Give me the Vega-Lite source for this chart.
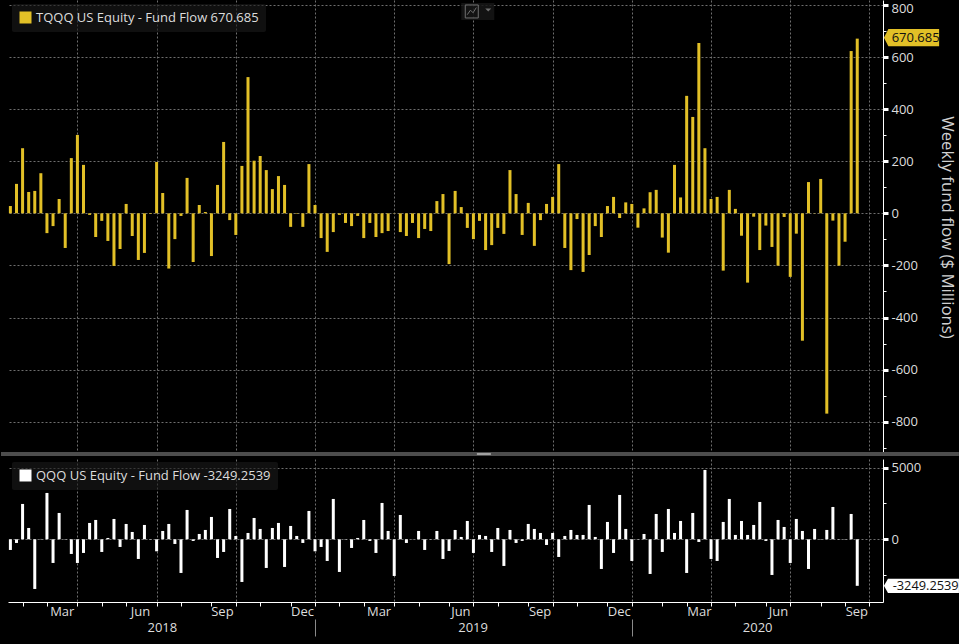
{
  "$schema": "https://vega.github.io/schema/vega-lite/v6.json",
  "background": "black",
  "padding": {"left": 0, "top": -2, "right": 0, "bottom": 10},
  "spacing": 2,
  "datasets": {
    "flows": [
      {"date":"2018-01-12","tqqq":28,"qqq":-745},{"date":"2018-01-19","tqqq":113,"qqq":-256},{"date":"2018-01-26","tqqq":250,"qqq":2468},{"date":"2018-02-02","tqqq":82,"qqq":791},
      {"date":"2018-02-09","tqqq":86,"qqq":-3469},{"date":"2018-02-16","tqqq":154,"qqq":23},{"date":"2018-02-23","tqqq":-76,"qqq":3236},{"date":"2018-03-02","tqqq":-49,"qqq":-1653},
      {"date":"2018-03-09","tqqq":55,"qqq":1839},{"date":"2018-03-16","tqqq":-133,"qqq":-20},{"date":"2018-03-23","tqqq":212,"qqq":-1024},{"date":"2018-03-30","tqqq":301,"qqq":-1653},
      {"date":"2018-04-06","tqqq":186,"qqq":-954},{"date":"2018-04-13","tqqq":-6,"qqq":1141},{"date":"2018-04-20","tqqq":-91,"qqq":1350},{"date":"2018-04-27","tqqq":-29,"qqq":-885},
      {"date":"2018-05-04","tqqq":-106,"qqq":93},{"date":"2018-05-11","tqqq":-202,"qqq":1420},{"date":"2018-05-18","tqqq":-137,"qqq":-535},{"date":"2018-05-25","tqqq":36,"qqq":1071},
      {"date":"2018-06-01","tqqq":-87,"qqq":512},{"date":"2018-06-08","tqqq":-179,"qqq":-1373},{"date":"2018-06-15","tqqq":-152,"qqq":1001},{"date":"2018-06-22","tqqq":-2,"qqq":20},
      {"date":"2018-06-29","tqqq":197,"qqq":-838},{"date":"2018-07-06","tqqq":78,"qqq":582},{"date":"2018-07-13","tqqq":-212,"qqq":1071},{"date":"2018-07-20","tqqq":-99,"qqq":-326},
      {"date":"2018-07-27","tqqq":-10,"qqq":-2351},{"date":"2018-08-03","tqqq":136,"qqq":2049},{"date":"2018-08-10","tqqq":-187,"qqq":-116},{"date":"2018-08-17","tqqq":32,"qqq":372},
      {"date":"2018-08-24","tqqq":5,"qqq":652},{"date":"2018-08-31","tqqq":-164,"qqq":1560},{"date":"2018-09-07","tqqq":109,"qqq":-1304},{"date":"2018-09-14","tqqq":274,"qqq":-885},
      {"date":"2018-09-21","tqqq":-26,"qqq":2118},{"date":"2018-09-28","tqqq":-83,"qqq":233},{"date":"2018-10-05","tqqq":182,"qqq":-2980},{"date":"2018-10-12","tqqq":523,"qqq":442},
      {"date":"2018-10-19","tqqq":202,"qqq":1490},{"date":"2018-10-26","tqqq":220,"qqq":722},{"date":"2018-11-02","tqqq":166,"qqq":-2002},{"date":"2018-11-09","tqqq":93,"qqq":791},
      {"date":"2018-11-16","tqqq":143,"qqq":1141},{"date":"2018-11-23","tqqq":109,"qqq":-1932},{"date":"2018-11-30","tqqq":-52,"qqq":931},{"date":"2018-12-07","tqqq":-2,"qqq":233},
      {"date":"2018-12-14","tqqq":-52,"qqq":-256},{"date":"2018-12-21","tqqq":189,"qqq":1979},{"date":"2018-12-28","tqqq":32,"qqq":-838},{"date":"2019-01-04","tqqq":-95,"qqq":-535},
      {"date":"2019-01-11","tqqq":-148,"qqq":-1513},{"date":"2019-01-18","tqqq":-72,"qqq":2817},{"date":"2019-01-25","tqqq":-6,"qqq":-2281},{"date":"2019-02-01","tqqq":-37,"qqq":-20},
      {"date":"2019-02-08","tqqq":-49,"qqq":-605},{"date":"2019-02-15","tqqq":-10,"qqq":93},{"date":"2019-02-22","tqqq":-95,"qqq":1350},{"date":"2019-03-01","tqqq":-37,"qqq":-116},
      {"date":"2019-03-08","tqqq":-91,"qqq":-954},{"date":"2019-03-15","tqqq":-76,"qqq":2538},{"date":"2019-03-22","tqqq":-68,"qqq":582},{"date":"2019-03-29","tqqq":-1,"qqq":-2561},
      {"date":"2019-04-05","tqqq":-72,"qqq":1699},{"date":"2019-04-12","tqqq":-87,"qqq":-256},{"date":"2019-04-19","tqqq":-37,"qqq":-10},{"date":"2019-04-26","tqqq":-95,"qqq":582},
      {"date":"2019-05-03","tqqq":-60,"qqq":-745},{"date":"2019-05-10","tqqq":-68,"qqq":-20},{"date":"2019-05-17","tqqq":47,"qqq":582},{"date":"2019-05-24","tqqq":74,"qqq":-1373},
      {"date":"2019-05-31","tqqq":-195,"qqq":-815},{"date":"2019-06-07","tqqq":86,"qqq":652},{"date":"2019-06-14","tqqq":24,"qqq":163},{"date":"2019-06-21","tqqq":-56,"qqq":1280},
      {"date":"2019-06-28","tqqq":-99,"qqq":-954},{"date":"2019-07-05","tqqq":-29,"qqq":303},{"date":"2019-07-12","tqqq":-141,"qqq":233},{"date":"2019-07-19","tqqq":-122,"qqq":-885},
      {"date":"2019-07-26","tqqq":-56,"qqq":791},{"date":"2019-08-02","tqqq":-79,"qqq":-1862},{"date":"2019-08-09","tqqq":166,"qqq":652},{"date":"2019-08-16","tqqq":74,"qqq":-256},
      {"date":"2019-08-23","tqqq":-83,"qqq":-116},{"date":"2019-08-30","tqqq":40,"qqq":1071},{"date":"2019-09-06","tqqq":-125,"qqq":722},{"date":"2019-09-13","tqqq":-26,"qqq":442},
      {"date":"2019-09-20","tqqq":36,"qqq":-396},{"date":"2019-09-27","tqqq":63,"qqq":442},{"date":"2019-10-04","tqqq":189,"qqq":-1234},{"date":"2019-10-11","tqqq":-133,"qqq":233},
      {"date":"2019-10-18","tqqq":-218,"qqq":652},{"date":"2019-10-25","tqqq":-22,"qqq":303},{"date":"2019-11-01","tqqq":-225,"qqq":303},{"date":"2019-11-08","tqqq":-160,"qqq":2398},
      {"date":"2019-11-15","tqqq":-49,"qqq":163},{"date":"2019-11-22","tqqq":-91,"qqq":-2072},{"date":"2019-11-29","tqqq":28,"qqq":1211},{"date":"2019-12-06","tqqq":63,"qqq":-954},
      {"date":"2019-12-13","tqqq":-18,"qqq":3096},{"date":"2019-12-20","tqqq":42,"qqq":722},{"date":"2019-12-27","tqqq":36,"qqq":-1513},{"date":"2020-01-03","tqqq":-55,"qqq":-20},
      {"date":"2020-01-10","tqqq":19,"qqq":372},{"date":"2020-01-17","tqqq":81,"qqq":-2421},{"date":"2020-01-24","tqqq":90,"qqq":1769},{"date":"2020-01-31","tqqq":-93,"qqq":-885},
      {"date":"2020-02-07","tqqq":-151,"qqq":2118},{"date":"2020-02-14","tqqq":186,"qqq":442},{"date":"2020-02-21","tqqq":61,"qqq":1280},{"date":"2020-02-28","tqqq":451,"qqq":-2351},
      {"date":"2020-03-06","tqqq":370,"qqq":1839},{"date":"2020-03-13","tqqq":654,"qqq":-186},{"date":"2020-03-20","tqqq":250,"qqq":4842},{"date":"2020-03-27","tqqq":55,"qqq":-1373},
      {"date":"2020-04-03","tqqq":63,"qqq":-1513},{"date":"2020-04-10","tqqq":-220,"qqq":1211},{"date":"2020-04-17","tqqq":90,"qqq":2817},{"date":"2020-04-24","tqqq":17,"qqq":303},
      {"date":"2020-05-01","tqqq":-86,"qqq":1280},{"date":"2020-05-08","tqqq":-266,"qqq":303},{"date":"2020-05-15","tqqq":-13,"qqq":1001},{"date":"2020-05-22","tqqq":-141,"qqq":2607},
      {"date":"2020-05-29","tqqq":-47,"qqq":-116},{"date":"2020-06-05","tqqq":-129,"qqq":-2491},{"date":"2020-06-12","tqqq":-201,"qqq":1350},{"date":"2020-06-19","tqqq":-14,"qqq":861},
      {"date":"2020-06-26","tqqq":-244,"qqq":-1653},{"date":"2020-07-03","tqqq":-78,"qqq":1420},{"date":"2020-07-10","tqqq":-489,"qqq":582},{"date":"2020-07-17","tqqq":120,"qqq":-2072},
      {"date":"2020-07-24","tqqq":-1,"qqq":722},{"date":"2020-07-31","tqqq":132,"qqq":-20},{"date":"2020-08-07","tqqq":-769,"qqq":652},{"date":"2020-08-14","tqqq":-28,"qqq":2258},
      {"date":"2020-08-21","tqqq":-201,"qqq":-20},{"date":"2020-08-28","tqqq":-109,"qqq":-20},{"date":"2020-09-04","tqqq":623,"qqq":1769},{"date":"2020-09-11","tqqq":670.685,"qqq":-3249.2539}
    ]
  },
  "vconcat": [
    {
      "width": 875,
      "height": 454,
      "resolve": {"axis": {"x": "independent", "y": "independent"}},
      "layer": [
        {
          "data": {"name": "flows"},
          "mark": {"type": "bar", "size": 3},
          "encoding": {
            "x": {
              "field": "date",
              "type": "temporal",
              "scale": {"domain": ["2018-01-09T06:00:00", "2020-10-10T14:00:00"], "padding": 0},
              "axis": {
                "orient": "bottom",
                "title": null,
                "domain": false,
                "ticks": false,
                "labels": false,
                "grid": true,
                "values": ["2018-03-30","2018-06-29","2018-09-28","2018-12-28","2019-03-29","2019-06-28","2019-09-27","2019-12-27","2020-03-27","2020-06-26","2020-09-25"]
              }
            },
            "y": {
              "field": "tqqq",
              "type": "quantitative",
              "scale": {"domain": [-924, 819], "nice": false},
              "axis": {
                "orient": "right",
                "title": "Weekly fund flow ($ Millions)",
                "values": [-800,-600,-400,-200,0,200,400,600,800],
                "labelExpr": "datum.value === 800 ? '' : '' + datum.value",
                "tickWidth": 3,
                "grid": true
              }
            },
            "color": {
              "datum": "TQQQ US Equity - Fund Flow 670.685",
              "type": "nominal",
              "scale": {"range": ["#e2c027"]},
              "legend": {"orient": "none", "legendX": 4, "legendY": 4}
            }
          }
        },
        {
          "data": {"values": [{"start": "2018-01-03T12:00:00", "end": "2021-01-03T12:00:00", "level": -924}]},
          "mark": {"type": "rule", "color": "#4d4d4d", "strokeWidth": 4, "strokeCap": "square"},
          "encoding": {
            "x": {"field": "start", "type": "temporal", "axis": null},
            "x2": {"field": "end"},
            "y": {
              "field": "level",
              "type": "quantitative",
              "axis": {
                "orient": "right",
                "title": null,
                "domain": false,
                "labels": false,
                "grid": false,
                "tickSize": 3,
                "values": [-900,-700,-500,-300,-100,100,300,500,700]
              }
            }
          }
        },
        {
          "data": {"values": [{"date": "2019-07-10", "level": -924}]},
          "mark": {"type": "point", "shape": "M-1,-.14L1,-.14L1,.14L-1,.14Z", "filled": true, "size": 196, "opacity": 1, "color": "#a0a0a0"},
          "encoding": {
            "x": {"field": "date", "type": "temporal", "axis": null},
            "y": {
              "field": "level",
              "type": "quantitative",
              "axis": {
                "orient": "right",
                "title": null,
                "domain": false,
                "ticks": false,
                "grid": false,
                "labelPadding": 8,
                "labelBaseline": "top",
                "labelOffset": -2,
                "labelExpr": "'' + datum.value",
                "values": [800]
              }
            }
          }
        },
        {
          "data": {"values": [{"date": "2019-07-03", "level": 775}]},
          "mark": {"type": "point", "shape": "M-1,-.52L1,-.52L1,.52L-1,.52Z", "filled": true, "size": 1089, "opacity": 0.85, "color": "#161616"},
          "encoding": {
            "x": {"field": "date", "type": "temporal", "axis": null},
            "y": {"field": "level", "type": "quantitative", "axis": null}
          }
        },
        {
          "data": {"values": [{"date": "2019-07-03", "level": 775}]},
          "mark": {"type": "point", "shape": "M-1,-1L1,-1L1,1L-1,1ZM-.7,.5L-.2,-.2L.2,.2L.7,-.6", "filled": false, "size": 169, "opacity": 1, "color": "#707070", "strokeWidth": 1, "xOffset": -6},
          "encoding": {
            "x": {"field": "date", "type": "temporal", "axis": null},
            "y": {"field": "level", "type": "quantitative", "axis": null}
          }
        },
        {
          "data": {"values": [{"date": "2019-07-03", "level": 775}]},
          "mark": {"type": "point", "shape": "M-1,-.5L1,-.5L0,.5Z", "filled": true, "size": 36, "opacity": 1, "color": "#707070", "xOffset": 10.5, "yOffset": -1.5},
          "encoding": {
            "x": {"field": "date", "type": "temporal", "axis": null},
            "y": {"field": "level", "type": "quantitative", "axis": null}
          }
        },
        {
          "data": {"values": [{"date": "2020-09-11", "last": 670.685, "tag": "670.685"}]},
          "mark": {"type": "point", "shape": "M-1,0L-.84,-.31L1,-.31L1,.31L-.84,.31Z", "filled": true, "size": 3047, "opacity": 1, "color": "#e2c027", "xOffset": 54.3, "yOffset": -1},
          "encoding": {
            "x": {"field": "date", "type": "temporal", "axis": null},
            "y": {"field": "last", "type": "quantitative", "axis": null}
          }
        },
        {
          "data": {"values": [{"date": "2020-09-11", "last": 670.685, "tag": "670.685"}]},
          "mark": {"type": "text", "align": "left", "baseline": "middle", "color": "#111111", "fontSize": 13, "font": "Open Sans", "xOffset": 34.4, "yOffset": -1},
          "encoding": {
            "x": {"field": "date", "type": "temporal", "axis": null},
            "y": {"field": "last", "type": "quantitative", "axis": null},
            "text": {"field": "tag"}
          }
        }
      ]
    },
    {
      "width": 875,
      "height": 143,
      "resolve": {"axis": {"x": "independent", "y": "independent"}},
      "layer": [
        {
          "data": {"name": "flows"},
          "mark": {"type": "bar", "size": 3},
          "encoding": {
            "x": {
              "field": "date",
              "type": "temporal",
              "scale": {"domain": ["2018-01-09T06:00:00", "2020-10-10T14:00:00"], "padding": 0},
              "axis": {
                "orient": "bottom",
                "title": null,
                "ticks": false,
                "labels": false,
                "grid": true,
                "domainColor": "white",
                "values": ["2018-03-30","2018-06-29","2018-09-28","2018-12-28","2019-03-29","2019-06-28","2019-09-27","2019-12-27","2020-03-27","2020-06-26","2020-09-25"]
              }
            },
            "y": {
              "field": "qqq",
              "type": "quantitative",
              "scale": {"domain": [-4379, 5607], "nice": false},
              "axis": {
                "orient": "right",
                "title": null,
                "values": [0, 5000],
                "labelExpr": "'' + datum.value",
                "tickWidth": 3,
                "grid": true
              }
            },
            "color": {
              "datum": "QQQ US Equity - Fund Flow -3249.2539",
              "type": "nominal",
              "scale": {"range": ["#ffffff"]},
              "legend": {"orient": "none", "legendX": 4, "legendY": 3}
            }
          }
        },
        {
          "data": {"values": [{"date": "2020-09-11", "last": -3249.2539, "tag": "-3249.2539"}]},
          "mark": {"type": "point", "shape": "M-1,0L-.893,-.19L1,-.19L1,.19L-.893,.19Z", "filled": true, "size": 5625, "opacity": 1, "color": "#ffffff", "xOffset": 64.2},
          "encoding": {
            "x": {
              "field": "date",
              "type": "temporal",
              "axis": {
                "orient": "bottom",
                "title": null,
                "domain": false,
                "labels": false,
                "grid": false,
                "tickSize": 4,
                "tickColor": "white",
                "values": ["2018-01-26","2018-02-23","2018-03-30","2018-04-27","2018-05-25","2018-06-29","2018-07-27","2018-08-31","2018-09-28","2018-10-26","2018-11-30","2018-12-28","2019-01-25","2019-02-22","2019-03-29","2019-04-26","2019-05-31","2019-06-28","2019-07-26","2019-08-30","2019-09-27","2019-10-25","2019-11-29","2019-12-27","2020-01-31","2020-02-28","2020-03-27","2020-04-24","2020-05-29","2020-06-26","2020-07-31","2020-08-28","2020-09-25"]
              }
            },
            "y": {
              "field": "last",
              "type": "quantitative",
              "axis": {
                "orient": "right",
                "title": null,
                "domain": false,
                "labels": false,
                "grid": false,
                "tickSize": 3,
                "values": [-2500, 2500]
              }
            }
          }
        },
        {
          "data": {"values": [{"date": "2020-09-11", "last": -3249.2539, "tag": "-3249.2539"}]},
          "mark": {"type": "text", "align": "left", "baseline": "middle", "color": "#111111", "fontSize": 12.8, "font": "Open Sans", "xOffset": 35.4},
          "encoding": {
            "x": {
              "field": "date",
              "type": "temporal",
              "axis": {
                "orient": "bottom",
                "title": null,
                "domain": false,
                "ticks": false,
                "grid": false,
                "labelPadding": 3,
                "labelExpr": "timeFormat(datum.value, '%b')",
                "values": ["2018-03-12","2018-06-10","2018-09-12","2018-12-13","2019-03-11","2019-06-13","2019-09-12","2019-12-12","2020-03-13","2020-06-12","2020-09-10"]
              }
            },
            "y": {"field": "last", "type": "quantitative", "axis": null},
            "text": {"field": "tag"}
          }
        },
        {
          "data": {"values": [{"date": "2020-09-11", "last": -3249.2539}]},
          "mark": {"type": "point", "opacity": 0, "size": 1},
          "encoding": {
            "x": {
              "field": "date",
              "type": "temporal",
              "axis": {
                "orient": "bottom",
                "title": null,
                "domain": false,
                "grid": false,
                "tickSize": 34,
                "tickColor": "#8a8a8a",
                "tickWidth": 1,
                "tickDash": [0, 17, 17, 0],
                "tickOpacity": {"condition": {"test": "month(datum.value) === 11", "value": 1}, "value": 0},
                "labelPadding": -15,
                "labelExpr": "month(datum.value) === 11 ? '' : timeFormat(datum.value, '%Y')",
                "values": ["2018-07-05","2018-12-28","2019-06-27","2019-12-27","2020-05-19"]
              }
            },
            "y": {"field": "last", "type": "quantitative", "axis": null}
          }
        }
      ]
    }
  ],
  "resolve": {"scale": {"color": "independent"}, "legend": {"color": "independent"}},
  "config": {
    "view": {"stroke": null},
    "font": "Open Sans",
    "axis": {
      "domainColor": "white",
      "domainWidth": 1,
      "tickColor": "white",
      "tickSize": 5,
      "gridColor": "#6e6e6e",
      "gridDash": [2, 2],
      "gridWidth": 1,
      "labelColor": "#dddddd",
      "labelFontSize": 13,
      "labelPadding": 3,
      "labelOverlap": false,
      "labelBound": false,
      "labelFlush": false,
      "titleColor": "#d0d0d0",
      "titleFontSize": 16.8,
      "titleFontWeight": "normal",
      "titlePadding": 20
    },
    "legend": {
      "title": null,
      "symbolType": "square",
      "symbolSize": 144,
      "symbolStrokeWidth": 0,
      "symbolOpacity": 1,
      "labelColor": "#dddddd",
      "labelFontSize": 13,
      "labelLimit": 400,
      "labelOffset": 4,
      "fillColor": "rgba(26,26,26,0.62)",
      "padding": 7,
      "cornerRadius": 2
    }
  }
}
